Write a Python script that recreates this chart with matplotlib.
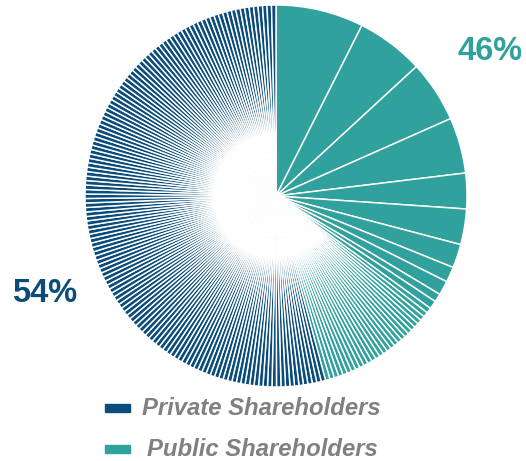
import matplotlib.pyplot as plt
from matplotlib.patches import Rectangle

# ---------------------------------------------------------------------------
# data (percent of shares)
# ---------------------------------------------------------------------------
public_shares = [7.4, 5.7, 5.2, 4.7, 3.0, 3.0, 2.0, 1.3, 1.2, 0.7, 0.7,
                 0.45, 0.42, 0.4, 0.38, 0.38, 0.38, 0.38, 0.38, 0.38, 0.38,
                 0.38, 0.38, 0.38, 0.38, 0.38, 0.38, 0.38, 0.38, 0.38, 0.38,
                 0.38, 0.38, 0.38, 0.38, 0.38, 0.38, 0.38, 0.38]
private_shares = [0.375] * 144

groups = ["Private Shareholders", "Public Shareholders"]
totals = ["54%", "46%"]

DARK = "#0b4d7a"
TEAL = "#31a19d"
GREY = "#808080"

W, H = 526, 461

fig = plt.figure(figsize=(W / 100, H / 100), dpi=100)
cx, cy, r = 276, 196, 191
ax = fig.add_axes([(cx - r) / W, 1 - (cy + r) / H, 2 * r / W, 2 * r / H])

values = public_shares + private_shares
colors = [TEAL] * len(public_shares) + [DARK] * len(private_shares)
ax.pie(values, colors=colors, startangle=90, counterclock=False,
       wedgeprops=dict(edgecolor="white", linewidth=1.05))
ax.set_xlim(-1, 1)
ax.set_ylim(-1, 1)

# percentage labels
fig.text(490 / W, 1 - 52 / H, totals[1], color=TEAL, fontsize=23.5,
         fontweight="bold", family="Liberation Sans", ha="center", va="center")
fig.text(45 / W, 1 - 293 / H, totals[0], color=DARK, fontsize=23.5,
         fontweight="bold", family="Liberation Sans", ha="center", va="center")

# legend drawn by hand
for i, (label, col) in enumerate(zip(groups, [DARK, TEAL])):
    y = 408 + i * 41
    fig.patches.append(Rectangle((105 / W, 1 - (y + 4) / H), 25 / W, 8 / H,
                                 transform=fig.transFigure, color=col))
    fig.text((142 + i * 5) / W, 1 - y / H, label, color=GREY, fontsize=17.2,
             fontweight="bold", fontstyle="italic", family="Liberation Sans",
             ha="left", va="center")

fig.savefig("out.png", dpi=100)
